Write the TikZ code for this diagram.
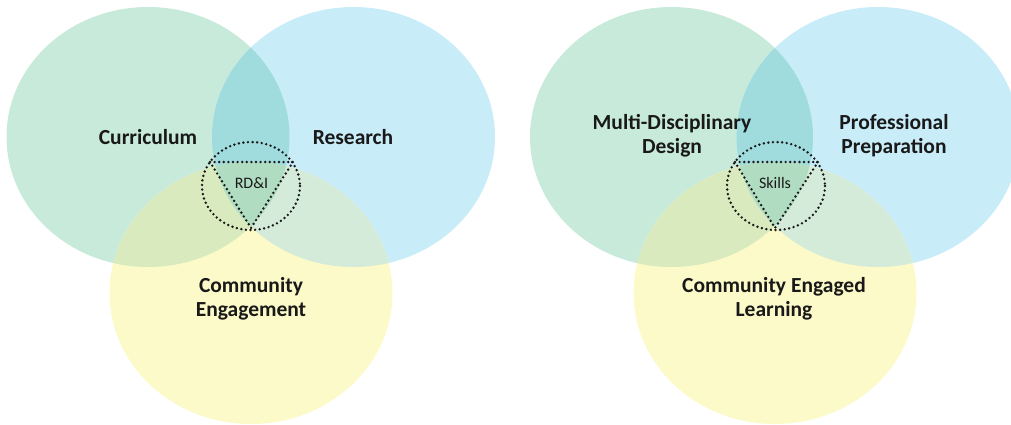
\documentclass[tikz,border=0pt]{standalone}
\usepackage{fontspec}
\setmainfont{Carlito}
\definecolor{vgreen}{RGB}{200,234,218}
\definecolor{vblue}{RGB}{200,236,248}
\definecolor{vyellow}{RGB}{252,250,200}
\definecolor{vgb}{RGB}{160,219,222}
\definecolor{vgy}{RGB}{216,234,190}
\definecolor{vby}{RGB}{213,235,218}
\definecolor{vgby}{RGB}{176,221,194}
\definecolor{txt}{RGB}{25,25,25}
\tikzset{
  dotline/.style={draw=txt, line width=2.7pt, line cap=round, dash pattern=on 0pt off 4.6pt},
  biglabel/.style={font=\fontsize{21.5}{24}\selectfont\bfseries, align=center, text=txt},
  smalllabel/.style={font=\fontsize{16}{18}\selectfont, text=txt},
}
\newcommand{\vennthree}[3]{%
  % #1 green centre, #2 blue centre, #3 yellow centre
  \fill[vgreen] #1 ellipse [x radius=141.5, y radius=130];
  \fill[vblue] #2 ellipse [x radius=141.5, y radius=130];
  \fill[vyellow] #3 ellipse [x radius=141.5, y radius=131];
  \begin{scope}
    \clip #1 ellipse [x radius=141.5, y radius=130];
    \fill[vgb] #2 ellipse [x radius=141.5, y radius=130];
    \fill[vgy] #3 ellipse [x radius=141.5, y radius=131];
    \clip #2 ellipse [x radius=141.5, y radius=130];
    \fill[vgby] #3 ellipse [x radius=141.5, y radius=131];
  \end{scope}
  \begin{scope}
    \clip #2 ellipse [x radius=141.5, y radius=130];
    \clip #3 ellipse [x radius=141.5, y radius=131];
    \fill[vby] #2 ellipse [x radius=141.5, y radius=130];
    \clip #1 ellipse [x radius=141.5, y radius=130];
    \fill[vgby] #3 ellipse [x radius=141.5, y radius=131];
  \end{scope}
}
\begin{document}
\begin{tikzpicture}[x=1pt,y=-1pt]
\useasboundingbox (0,0) rectangle (1011,424);
\begin{scope}
\clip (0,0) rectangle (1011,424);
\vennthree{(148,137)}{(353.5,137)}{(251,293)}
\vennthree{(671.5,137)}{(878,137)}{(775,293)}
\end{scope}
% left dotted shapes
\draw[dotline] (251,186) ellipse [x radius=49, y radius=44];
\coordinate (lta) at (210,162);
\coordinate (ltb) at (293,162);
\coordinate (ltc) at (251,228);
\draw[dotline] (lta) -- (ltb) -- (ltc) -- cycle;
% right dotted shapes
\draw[dotline] (776,186) ellipse [x radius=49, y radius=44];
\coordinate (rta) at (735,162);
\coordinate (rtb) at (818,162);
\coordinate (rtc) at (775,228);
\draw[dotline] (rta) -- (rtb) -- (rtc) -- cycle;
% labels
\node[biglabel] (cur) at (148,137) {Curriculum};
\node[biglabel] (res) at (353,137) {Research};
\node[biglabel] (ce) at (251,299) {Community\\Engagement};
\node[smalllabel] (rdi) at (251.5,183) {RD\&I};
\node[biglabel] (mdd) at (672,136) {Multi-Disciplinary\\Design};
\node[biglabel] (pp) at (894,136) {Professional\\Preparation};
\node[biglabel] (cel) at (774,299) {Community Engaged\\Learning};
\node[smalllabel] (sk) at (775,183) {Skills};
\end{tikzpicture}
\end{document}
